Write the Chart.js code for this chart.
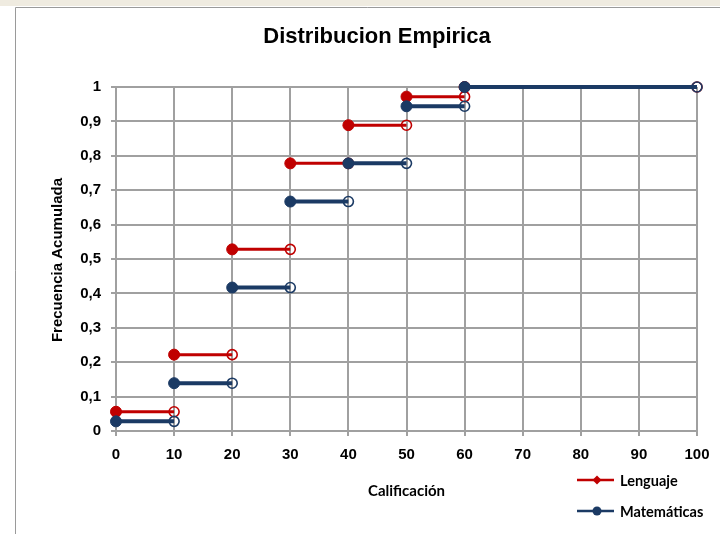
<!DOCTYPE html>
<html><head><meta charset="utf-8">
<script src="https://cdn.jsdelivr.net/npm/chart.js@4"></script>
<style>html,body{margin:0;padding:0;background:#fff}canvas{display:block}</style>
</head><body>
<canvas id="c" width="720" height="534"></canvas>
<script>
const titleText = 'Distribucion Empirica';
const xAxisTitle = 'Calificación';
const yAxisTitle = 'Frecuencia Acumulada';
const seriesNames = ['Lenguaje', 'Matemáticas'];
const breaks = [0, 10, 20, 30, 40, 50, 60, 100];
const lenguaje = [0.056, 0.222, 0.528, 0.778, 0.889, 0.972, 1];
const matematicas = [0.028, 0.139, 0.417, 0.667, 0.778, 0.944, 1];
const xTickLabels = ['0','10','20','30','40','50','60','70','80','90','100'];
const yTickLabels = ['0','0,1','0,2','0,3','0,4','0,5','0,6','0,7','0,8','0,9','1'];

const RED = '#c00000';
const NAVY = '#1b3a64';
const GRID = '#a0a0a0';
const SANS = "'Liberation Sans', Arial, sans-serif";
const CAL = "Lato, 'Open Sans', sans-serif";

function steps(vals) {
  const pts = [];
  for (let i = 0; i < vals.length; i++) {
    pts.push({x: breaks[i], y: vals[i], k: 's'});
    pts.push({x: breaks[i + 1], y: vals[i], k: 'e'});
    if (i < vals.length - 1) pts.push({x: breaks[i + 1], y: null, k: 'g'});
  }
  return pts;
}

function ds(label, vals, color, lw, order) {
  return {
    label, data: steps(vals), order, clip: false,
    showLine: true, spanGaps: false,
    borderColor: color, borderWidth: lw,
    pointRadius: c => c.raw && c.raw.k === 'g' ? 0 : (c.raw && c.raw.k === 's' ? 5.5 : 5),
    pointBackgroundColor: c => c.raw && c.raw.k === 's' ? color : 'rgba(0,0,0,0)',
    pointBorderColor: color,
    pointBorderWidth: c => c.raw && c.raw.k === 's' ? 1 : 1.6,
    pointHoverRadius: 0
  };
}

const deco = {
  id: 'deco',
  beforeDraw(chart) {
    const g = chart.ctx;
    g.save();
    g.fillStyle = '#fff'; g.fillRect(0, 0, 720, 534);
    g.fillStyle = '#efebe0'; g.fillRect(0, 0, 720, 6);
    g.strokeStyle = '#9a9a9a'; g.lineWidth = 1;
    g.beginPath(); g.moveTo(15.5, 534); g.lineTo(15.5, 7.5); g.lineTo(720, 7.5); g.stroke();
    g.restore();
  },
  afterDraw(chart) {
    const g = chart.ctx;
    const a = chart.chartArea;
    g.save();
    g.fillStyle = '#000';
    g.textAlign = 'center'; g.textBaseline = 'middle';
    g.font = 'bold 22px ' + SANS;
    g.fillText(titleText, 377, 37);
    g.font = 'bold 15px ' + CAL;
    g.fillText(xAxisTitle, (a.left + a.right) / 2, 491);
    g.save();
    g.translate(58, (a.top + a.bottom) / 2 + 1);
    g.rotate(-Math.PI / 2);
    g.font = 'bold 15px ' + SANS;
    g.fillText(yAxisTitle, 0, 0);
    g.restore();
    const items = [
      {name: seriesNames[0], color: RED, y: 480, shape: 'diamond'},
      {name: seriesNames[1], color: NAVY, y: 511, shape: 'circle'}
    ];
    items.forEach(it => {
      g.strokeStyle = it.color; g.lineWidth = 2.5;
      g.beginPath(); g.moveTo(577, it.y); g.lineTo(614, it.y); g.stroke();
      g.fillStyle = it.color;
      g.beginPath();
      if (it.shape === 'diamond') {
        g.moveTo(597, it.y - 4.5); g.lineTo(601.5, it.y); g.lineTo(597, it.y + 4.5); g.lineTo(592.5, it.y);
        g.closePath();
      } else {
        g.arc(597, it.y, 4.5, 0, Math.PI * 2);
      }
      g.fill();
      g.fillStyle = '#000';
      g.textAlign = 'left';
      g.font = 'bold 14.5px ' + CAL;
      g.fillText(it.name, 620, it.y + 1);
    });
    g.restore();
  }
};

new Chart(document.getElementById('c'), {
  type: 'scatter',
  data: {
    datasets: [
      ds(seriesNames[0], lenguaje, RED, 3, 2),
      ds(seriesNames[1], matematicas, NAVY, 4, 1)
    ]
  },
  options: {
    responsive: false,
    animation: false,
    devicePixelRatio: 1,
    layout: {padding: {left: 15, right: 23, top: 87, bottom: 0}},
    plugins: {legend: {display: false}, tooltip: {enabled: false}, title: {display: false}},
    scales: {
      x: {
        type: 'linear', min: 0, max: 100,
        afterFit: s => { s.height = 103; },
        ticks: {stepSize: 10, padding: 10, color: '#000', font: {family: SANS, size: 15, weight: 'bold'},
          callback: (v, i) => xTickLabels[i]},
        grid: {color: GRID, lineWidth: 2, tickLength: 5, tickColor: GRID},
        border: {color: GRID, width: 2}
      },
      y: {
        type: 'linear', min: 0, max: 1,
        afterFit: s => { s.width = 101; },
        ticks: {stepSize: 0.1, padding: 10, color: '#000', font: {family: SANS, size: 15, weight: 'bold'},
          callback: (v, i) => yTickLabels[i]},
        grid: {color: GRID, lineWidth: 2, tickLength: 5, tickColor: GRID},
        border: {color: GRID, width: 2}
      }
    }
  },
  plugins: [deco]
});
</script>
</body></html>
